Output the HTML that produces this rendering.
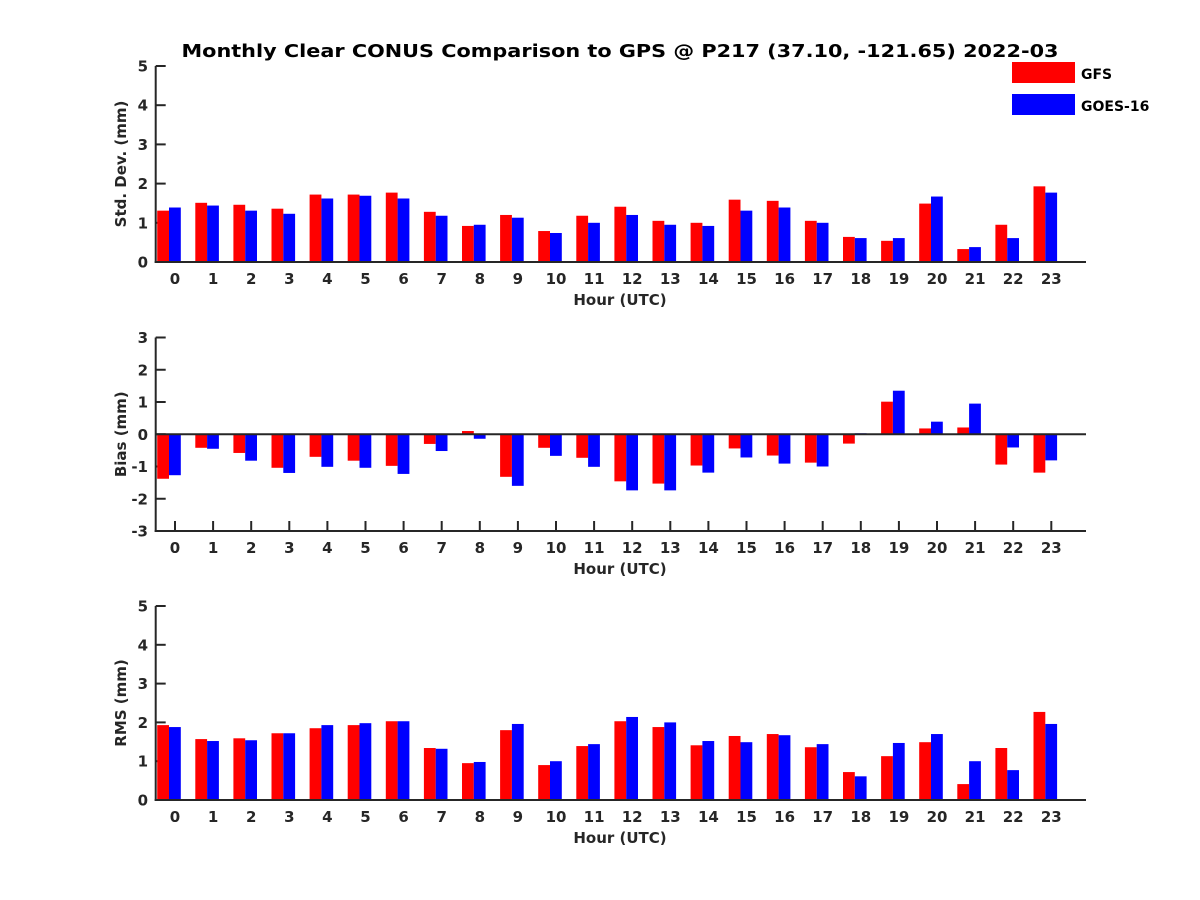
<!DOCTYPE html>
<html><head><meta charset="utf-8"><style>
body{margin:0;background:#fff}
svg{display:block;font-family:"DejaVu Sans","Liberation Sans",sans-serif;font-weight:bold}
</style></head><body>
<svg id="chart" width="1200" height="900" viewBox="0 0 1200 900" xmlns="http://www.w3.org/2000/svg">
<rect width="1200" height="900" fill="#fff"/>
<text x="620" y="57" text-anchor="middle" font-size="18" textLength="877" lengthAdjust="spacingAndGlyphs" fill="#000">Monthly Clear CONUS Comparison to GPS @ P217 (37.10, -121.65) 2022-03</text>
<g>
<rect x="1012" y="62" width="63" height="21" fill="#ff0000"/>
<text x="1081" y="79" font-size="14" fill="#000">GFS</text>
<rect x="1012" y="94" width="63" height="21" fill="#0000ff"/>
<text x="1081" y="111" font-size="14" fill="#000">GOES-16</text>
</g>
</svg>
<script>
const hours=[0,1,2,3,4,5,6,7,8,9,10,11,12,13,14,15,16,17,18,19,20,21,22,23];
const stdGFS=[1.31,1.51,1.46,1.36,1.72,1.72,1.77,1.28,0.92,1.2,0.79,1.18,1.41,1.05,1.0,1.59,1.56,1.05,0.64,0.54,1.49,0.33,0.95,1.93];
const stdGOES=[1.39,1.44,1.31,1.23,1.62,1.69,1.62,1.18,0.95,1.13,0.74,1.0,1.2,0.95,0.92,1.31,1.39,1.0,0.61,0.61,1.67,0.38,0.61,1.77];
const biasGFS=[-1.38,-0.42,-0.58,-1.04,-0.7,-0.82,-0.98,-0.3,0.1,-1.32,-0.42,-0.73,-1.46,-1.53,-0.97,-0.44,-0.66,-0.88,-0.29,1.01,0.18,0.21,-0.94,-1.19];
const biasGOES=[-1.27,-0.45,-0.82,-1.2,-1.01,-1.04,-1.23,-0.52,-0.14,-1.6,-0.67,-1.01,-1.74,-1.74,-1.19,-0.72,-0.91,-1.0,0.03,1.35,0.39,0.95,-0.41,-0.81];
const rmsGFS=[1.93,1.57,1.59,1.72,1.85,1.93,2.03,1.34,0.95,1.8,0.9,1.39,2.03,1.88,1.41,1.65,1.7,1.36,0.72,1.13,1.49,0.41,1.34,2.27];
const rmsGOES=[1.88,1.52,1.54,1.72,1.93,1.98,2.03,1.32,0.98,1.96,1.0,1.44,2.14,2.0,1.52,1.49,1.67,1.44,0.61,1.47,1.7,1.0,0.77,1.96];
const stdTicks=[0,1,2,3,4,5];
const biasTicks=[-3,-2,-1,0,1,2,3];
const rmsTicks=[0,1,2,3,4,5];

const NS='http://www.w3.org/2000/svg';
const svg=document.getElementById('chart');
function mk(tag,attrs,parent){const e=document.createElementNS(NS,tag);for(const k in attrs)e.setAttribute(k,attrs[k]);(parent||svg).appendChild(e);return e;}
const X0=155.7,XR=1086,BW=11.8;
const BX0=169,BXS=38.1,LOFF=6;
function bx(h){return BX0+h*BXS;}
function xs(h){return bx(h)+LOFF;}

function panel(name,top,bottom,ymin,ymax,ticks,ylabel,a,b,zeroLine,xTicks){
  const g=mk('g',{});
  
  
  const ys=v=>bottom-(v-ymin)/(ymax-ymin)*(bottom-top);
  const base=zeroLine?ys(0):bottom;
  const tk=mk('g',{stroke:'#262626','stroke-width':2,fill:'none'},g);
  
  
  ticks.forEach(t=>{
    const y=ys(t);
    mk('line',{x1:X0,y1:y,x2:X0+10,y2:y},tk);
    const tx=mk('text',{x:148,y:y+5.5,'text-anchor':'end','font-size':15,fill:'#262626',stroke:'none'},g);
    tx.textContent=t;
    
    
  });
  hours.forEach(h=>{
    const x=xs(h);
    if(xTicks) mk('line',{x1:x,y1:bottom,x2:x,y2:bottom-10},tk);
    const tx=mk('text',{x:x,y:bottom+22,'text-anchor':'middle','font-size':15,fill:'#262626'},g);
    tx.textContent=h;
    
    
  });
  hours.forEach((h,i)=>{
    const cx=bx(h);
    [[a[i],'#ff0000',cx-BW,'gfs'],[b[i],'#0000ff',cx,'goes16']].forEach(([v,c,x,s])=>{
      const y=ys(v);
      const r=mk('rect',{x:x,y:Math.min(y,base),width:BW,height:Math.abs(base-y),fill:c},g);
      
      
    });
  });
  const ax=mk('g',{stroke:'#262626','stroke-width':2,fill:'none'},g);
  
  
  mk('line',{x1:X0,y1:top,x2:X0,y2:bottom+1},ax);
  mk('line',{x1:X0-1,y1:bottom,x2:XR,y2:bottom},ax);
  if(zeroLine){const z=mk('line',{x1:X0,y1:base,x2:XR,y2:base,stroke:'#262626','stroke-width':2},g);
    
    }
  const xl=mk('text',{x:620,y:bottom+43,'text-anchor':'middle','font-size':15,fill:'#262626'},g);
  xl.textContent='Hour (UTC)';
  
  
  const my=(top+bottom)/2;
  const yl=mk('text',{x:0,y:0,'text-anchor':'middle','font-size':15,fill:'#262626',transform:'translate(126,'+my+') rotate(-90)'},g);
  yl.textContent=ylabel;
  
  
}
panel('std-dev',66,262,0,5,stdTicks,'Std. Dev. (mm)',stdGFS,stdGOES,false,false);
panel('bias',337.5,531,-3,3,biasTicks,'Bias (mm)',biasGFS,biasGOES,true,true);
panel('rms',606,800,0,5,rmsTicks,'RMS (mm)',rmsGFS,rmsGOES,false,false);
</script>
</body></html>
